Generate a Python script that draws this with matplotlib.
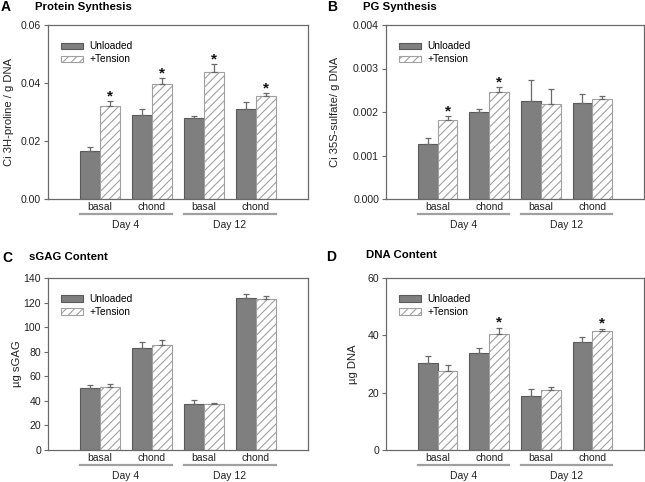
import numpy as np
import matplotlib
matplotlib.use('Agg')
import matplotlib.pyplot as plt
from matplotlib import transforms

plt.rcParams['font.family'] = ['Liberation Sans', 'DejaVu Sans']
plt.rcParams['hatch.color'] = '#a0a0a0'
plt.rcParams['hatch.linewidth'] = 0.8

groups = ['basal', 'chond', 'basal', 'chond']
days = ['Day 4', 'Day 12']
series = ['Unloaded', '+Tension']

# A - protein synthesis
a_unl = [0.0167, 0.0291, 0.0278, 0.0311]
a_unl_err = [0.0011, 0.0021, 0.0007, 0.0024]
a_ten = [0.0322, 0.0396, 0.0439, 0.0354]
a_ten_err = [0.0015, 0.0020, 0.0025, 0.0011]
a_star = [True, True, True, True]

# B - PG synthesis
b_unl = [0.00126, 0.00199, 0.00225, 0.00221]
b_unl_err = [0.00014, 0.00009, 0.00048, 0.00020]
b_ten = [0.00182, 0.00245, 0.00218, 0.00231]
b_ten_err = [0.00008, 0.00012, 0.00034, 0.00006]
b_star = [True, True, False, False]

# C - sGAG content
c_unl = [50.5, 82.9, 37.3, 123.5]
c_unl_err = [2.7, 4.9, 3.2, 3.5]
c_ten = [51.1, 85.1, 37.1, 122.9]
c_ten_err = [2.7, 4.1, 1.0, 2.8]
c_star = [False, False, False, False]

# D - DNA content
d_unl = [30.3, 33.9, 18.8, 37.8]
d_unl_err = [2.5, 1.8, 2.4, 1.5]
d_ten = [27.5, 40.3, 20.9, 41.4]
d_ten_err = [2.1, 2.4, 1.0, 0.9]
d_star = [False, True, False, True]

panels = [
    ('A', 'Protein Synthesis', 'Ci 3H-proline / g DNA', a_unl, a_unl_err, a_ten, a_ten_err, a_star,
     [0, 0.02, 0.04, 0.06], '%.2f'),
    ('B', 'PG Synthesis', 'Ci 35S-sulfate/ g DNA', b_unl, b_unl_err, b_ten, b_ten_err, b_star,
     [0, 0.001, 0.002, 0.003, 0.004], '%.3f'),
    ('C', 'sGAG Content', 'µg sGAG', c_unl, c_unl_err, c_ten, c_ten_err, c_star,
     [0, 20, 40, 60, 80, 100, 120, 140], '%d'),
    ('D', 'DNA Content', 'µg DNA', d_unl, d_unl_err, d_ten, d_ten_err, d_star,
     [0, 20, 40, 60], '%d'),
]

W, H = 645, 482
fig = plt.figure(figsize=(W / 100, H / 100), dpi=100)

# axes boxes in pixels: left, top, right, bottom
boxes = [(48, 25, 308, 199), (386, 25, 644, 199),
         (48, 278, 308, 450), (386, 278, 644, 450)]
letter_pos = [(1, 7), (327, 7), (2, 258), (326, 257)]
title_pos = [(35, 7), (363, 7), (29, 257), (366, 255)]
ylab_x = [-0.13, -0.18, -0.10, -0.11]

gray = '#7f7f7f'
spine = '#6a6a6a'
x = np.arange(4)
w = 0.385

for i, (let, title, ylab, unl, unl_err, ten, ten_err, star, yt, fmt) in enumerate(panels):
    l, t, r, b = boxes[i]
    ax = fig.add_axes([l / W, 1 - b / H, (r - l) / W, (b - t) / H])

    ax.bar(x - w / 2, unl, w, color=gray, edgecolor='#5a5a5a', linewidth=0.8, label=series[0])
    ax.bar(x + w / 2, ten, w, color='white', edgecolor='#a0a0a0', hatch='////', linewidth=0.8,
           label=series[1])
    ax.errorbar(x - w / 2, unl, yerr=[np.zeros(4), unl_err], fmt='none', ecolor='#6a6a6a',
                elinewidth=0.9, capsize=2, capthick=0.9)
    ax.errorbar(x + w / 2, ten, yerr=[np.zeros(4), ten_err], fmt='none', ecolor='#6a6a6a',
                elinewidth=0.9, capsize=2, capthick=0.9)

    for j in range(4):
        if star[j]:
            ax.annotate('*', (x[j] + w / 2, ten[j] + ten_err[j]), xytext=(0, -1.5),
                        textcoords='offset points', ha='center', va='bottom',
                        fontsize=11, fontweight='bold', color='#111111')

    ax.set_xlim(-1, 4)
    ax.set_ylim(yt[0], yt[-1])
    ax.set_yticks(yt)
    ax.set_yticklabels([fmt % v for v in yt])
    ax.set_xticks(x)
    ax.set_xticklabels(groups)
    ax.tick_params(axis='x', length=0, pad=2.5, labelsize=7.5, labelcolor='#222222')
    ax.tick_params(axis='y', length=3, width=0.8, color=spine, pad=2, labelsize=7.6,
                   labelcolor='#222222')
    for s in ax.spines.values():
        s.set_color(spine)
        s.set_linewidth(0.9)

    ax.set_ylabel(ylab, fontsize=8.1, color='#222222')
    ax.yaxis.set_label_coords(ylab_x[i], 0.5)

    # day grouping lines and labels under the axis
    line_tr = ax.get_xaxis_transform() + transforms.ScaledTranslation(0, -0.15, fig.dpi_scale_trans)
    day_tr = ax.get_xaxis_transform() + transforms.ScaledTranslation(0, -0.26, fig.dpi_scale_trans)
    for k, day in enumerate(days):
        x0 = x[2 * k] - w
        x1 = x[2 * k + 1] + w
        ax.plot([x0, x1], [0, 0], color='#a0a0a0', lw=1.6, transform=line_tr, clip_on=False)
        ax.text((x0 + x1) / 2, 0, day, transform=day_tr, ha='center', va='center',
                fontsize=7.5, color='#222222')

    ax.legend(loc='upper left', bbox_to_anchor=(0.035, 0.93), frameon=False, fontsize=7.3,
              handlelength=2.2, handleheight=0.55, handletextpad=0.6, labelspacing=0.3,
              borderaxespad=0)

    fig.text(letter_pos[i][0] / W, 1 - letter_pos[i][1] / H, let, fontsize=10,
             fontweight='bold', ha='left', va='center')
    fig.text(title_pos[i][0] / W, 1 - title_pos[i][1] / H, title, fontsize=8.2,
             fontweight='bold', ha='left', va='center')

fig.savefig('out.png', dpi=100)
